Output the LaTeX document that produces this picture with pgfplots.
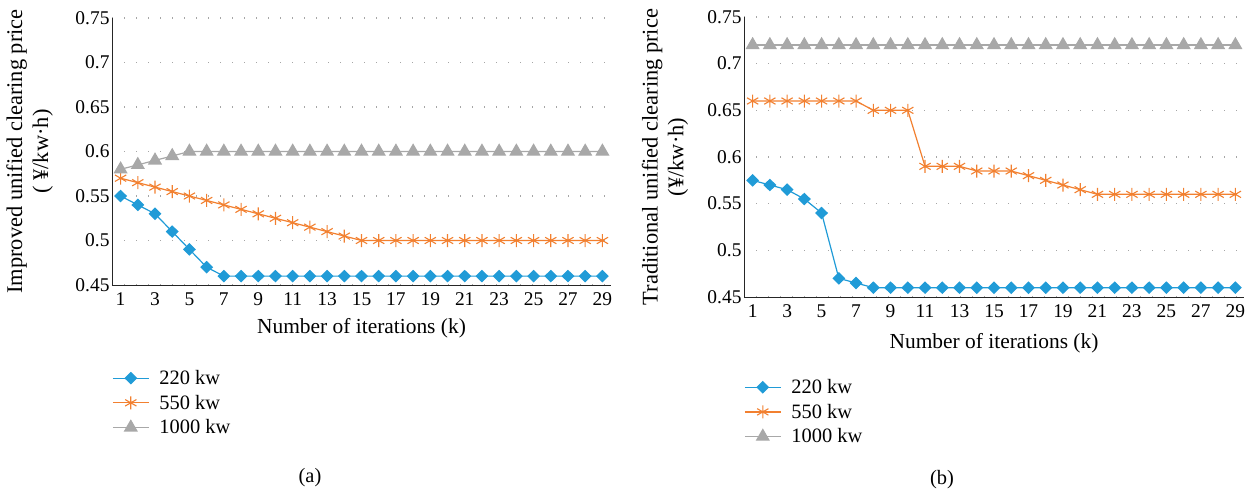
\documentclass[border=0pt]{standalone}
\usepackage{pgfplots}
\pgfplotsset{compat=1.18}
\usepackage{fontspec}
\setmainfont{Liberation Serif}

\definecolor{cblue}{RGB}{32,155,215}
\definecolor{corange}{RGB}{242,128,48}
\definecolor{cgray}{RGB}{168,168,168}

\pgfplotsset{
  panel/.style={
    scale only axis,
    anchor=south west,
    xmin=0.5, xmax=29.5,
    ymin=0.45, ymax=0.75,
    xtick={1,3,...,29},
    ytick={0.45,0.5,0.55,0.6,0.65,0.7,0.75},
    yticklabels={0.45,0.5,0.55,0.6,0.65,0.7,0.75},
    axis x line*=bottom,
    axis y line*=left,
    axis line style={black!85, line width=0.9bp, -},
    major tick length=0pt,
    ymajorgrids,
    grid style={gray!70, line width=1.1bp, dash pattern=on 1.2bp off 10.8bp},
    tick label style={font=\fontsize{19.5}{21}\selectfont},
    /pgf/number format/assume math mode=true,
    xticklabel style={yshift=-4bp},
    yticklabel style={xshift=1bp},
    xlabel style={anchor=center, font=\fontsize{21.5}{25}\selectfont},
    ylabel style={align=center, anchor=center, font=\fontsize{22.5}{26}\selectfont},
    legend cell align=left,
    legend style={draw=none, fill=none, font=\fontsize{20.5}{22}\selectfont,
      anchor=north west, row sep=7bp, inner sep=0pt,
      nodes={inner xsep=10bp, inner ysep=1bp}},
    legend image code/.code={\draw[mark repeat=2, mark phase=2]
      plot coordinates {(0bp,0bp)(18bp,0bp)(36bp,0bp)};},
  },
  s220/.style={color=cblue, line width=1.2bp, mark=diamond*,
    mark size=5.5bp, mark options={xscale=1.35, solid}},
  s550/.style={color=corange, line width=1.2bp, mark=asterisk,
    mark size=6.5bp, mark options={solid, line width=1.1bp}},
  s1000/.style={color=cgray, line width=1.2bp, mark=triangle*,
    mark size=7bp, mark options={solid}},
}

\begin{document}
\begin{tikzpicture}
\path[use as bounding box] (0,0) rectangle (1257bp,-491bp);

% (a) improved
\begin{axis}[panel,
  at={(112bp,-285bp)}, width=499bp, height=267bp,
  xlabel={Number of iterations (k)},
  ylabel={Improved unified clearing price\\( ¥/kw·h)},
  xlabel style={at={(axis description cs:0.5,-0.161)}},
  ylabel style={at={(axis description cs:-0.165,0.5)}},
  legend style={at={(axis description cs:0.0,-0.315)}},
]
\addplot[s220] coordinates {
(1,0.55) (2,0.54) (3,0.53) (4,0.51) (5,0.49) (6,0.47) (7,0.46) (8,0.46)
(9,0.46) (10,0.46) (11,0.46) (12,0.46) (13,0.46) (14,0.46) (15,0.46)
(16,0.46) (17,0.46) (18,0.46) (19,0.46) (20,0.46) (21,0.46) (22,0.46)
(23,0.46) (24,0.46) (25,0.46) (26,0.46) (27,0.46) (28,0.46) (29,0.46)};
\addplot[s550] coordinates {
(1,0.57) (2,0.565) (3,0.56) (4,0.555) (5,0.55) (6,0.545) (7,0.54) (8,0.535)
(9,0.53) (10,0.525) (11,0.52) (12,0.515) (13,0.51) (14,0.505) (15,0.50)
(16,0.50) (17,0.50) (18,0.50) (19,0.50) (20,0.50) (21,0.50) (22,0.50)
(23,0.50) (24,0.50) (25,0.50) (26,0.50) (27,0.50) (28,0.50) (29,0.50)};
\addplot[s1000] coordinates {
(1,0.58) (2,0.585) (3,0.59) (4,0.595) (5,0.60) (6,0.60) (7,0.60) (8,0.60)
(9,0.60) (10,0.60) (11,0.60) (12,0.60) (13,0.60) (14,0.60) (15,0.60)
(16,0.60) (17,0.60) (18,0.60) (19,0.60) (20,0.60) (21,0.60) (22,0.60)
(23,0.60) (24,0.60) (25,0.60) (26,0.60) (27,0.60) (28,0.60) (29,0.60)};
\legend{220 kw,550 kw,1000 kw}
\end{axis}

% (b) traditional
\begin{axis}[panel,
  at={(744bp,-297bp)}, width=500bp, height=280bp,
  xlabel={Number of iterations (k)},
  ylabel={Traditional unified clearing price\\(¥/kw·h)},
  xlabel style={at={(axis description cs:0.5,-0.164)}},
  ylabel style={at={(axis description cs:-0.158,0.5)}},
  legend style={at={(axis description cs:0.0,-0.29)}},
]
\addplot[s220] coordinates {
(1,0.575) (2,0.57) (3,0.565) (4,0.555) (5,0.54) (6,0.47) (7,0.465) (8,0.46)
(9,0.46) (10,0.46) (11,0.46) (12,0.46) (13,0.46) (14,0.46) (15,0.46)
(16,0.46) (17,0.46) (18,0.46) (19,0.46) (20,0.46) (21,0.46) (22,0.46)
(23,0.46) (24,0.46) (25,0.46) (26,0.46) (27,0.46) (28,0.46) (29,0.46)};
\addplot[s550] coordinates {
(1,0.66) (2,0.66) (3,0.66) (4,0.66) (5,0.66) (6,0.66) (7,0.66) (8,0.65)
(9,0.65) (10,0.65) (11,0.59) (12,0.59) (13,0.59) (14,0.585) (15,0.585)
(16,0.585) (17,0.58) (18,0.575) (19,0.57) (20,0.565) (21,0.56) (22,0.56)
(23,0.56) (24,0.56) (25,0.56) (26,0.56) (27,0.56) (28,0.56) (29,0.56)};
\addplot[s1000] coordinates {
(1,0.72) (2,0.72) (3,0.72) (4,0.72) (5,0.72) (6,0.72) (7,0.72) (8,0.72)
(9,0.72) (10,0.72) (11,0.72) (12,0.72) (13,0.72) (14,0.72) (15,0.72)
(16,0.72) (17,0.72) (18,0.72) (19,0.72) (20,0.72) (21,0.72) (22,0.72)
(23,0.72) (24,0.72) (25,0.72) (26,0.72) (27,0.72) (28,0.72) (29,0.72)};
\legend{220 kw,550 kw,1000 kw}
\end{axis}

\node[font=\fontsize{20.5}{22}\selectfont] at (310bp,-478bp) {(a)};
\node[font=\fontsize{20.5}{22}\selectfont] at (942bp,-480bp) {(b)};
\end{tikzpicture}
\end{document}
